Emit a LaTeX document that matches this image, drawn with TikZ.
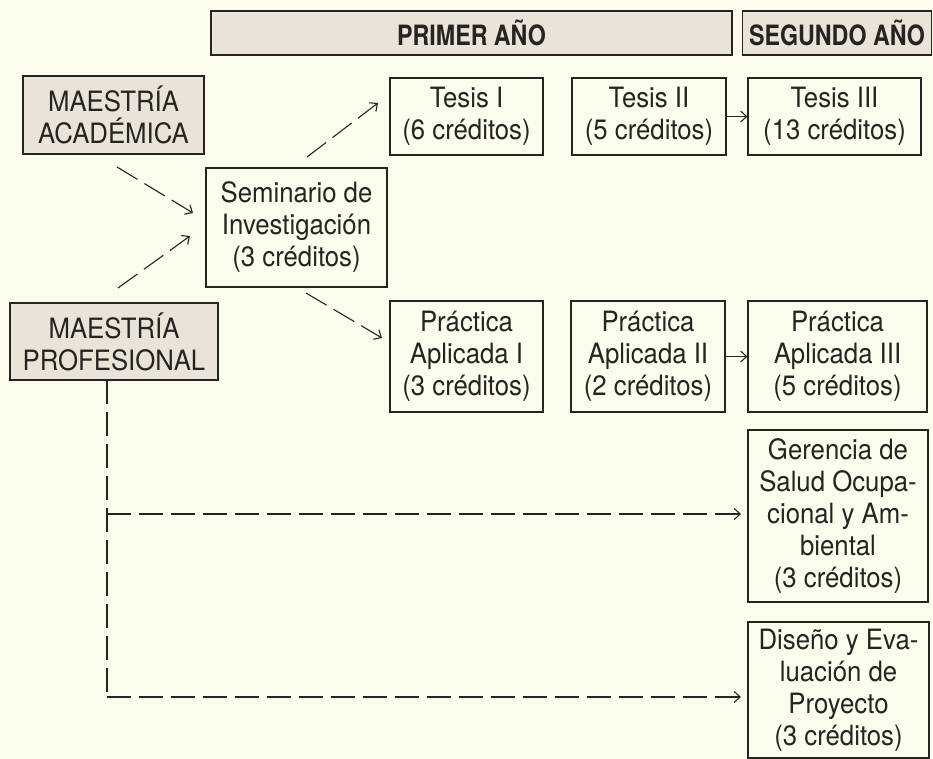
\documentclass[tikz,border=0pt]{standalone}
\usepackage{fontspec}
\setmainfont{TeX Gyre Heros}[FakeStretch=0.92]
\newfontfamily\hdrfont{TeX Gyre Heros}[FakeStretch=0.83]
\usetikzlibrary{arrows.meta}
\definecolor{paper}{RGB}{253,251,236}
\definecolor{boxfill}{RGB}{234,228,216}
\definecolor{ink}{RGB}{38,36,34}
\begin{document}
\begin{tikzpicture}[x=1pt,y=-1pt,
  base/.style={draw=ink, line width=1.1pt, inner sep=0pt, align=center,
    font=\fontsize{28}{32}\selectfont, text=ink},
  course/.style={base},
  prog/.style={base, fill=boxfill},
  yearbox/.style={base, fill=boxfill, font=\hdrfont\bfseries\fontsize{28}{32}\selectfont},
  conn/.style={draw=ink, line width=1.1pt, -{Straight Barb[length=6pt,width=11pt]}},
  dconn/.style={conn, dash pattern=on 24pt off 8pt},
  dline/.style={draw=ink, line width=1.1pt, dash pattern=on 24pt off 8pt}]
\useasboundingbox (0,0) rectangle (933,759);
\fill[paper] (0,0) rectangle (933,759);

% year headers
\node[yearbox, minimum width=521pt, minimum height=44pt] (prim) at (471.5,33) {PRIMER AÑO};
\node[yearbox, minimum width=189pt, minimum height=44pt] (seg) at (837,33) {SEGUNDO AÑO};

% programmes
\node[prog, minimum width=181pt, minimum height=78pt] (ma) at (113.5,115) {MAESTRÍA\\ACADÉMICA};
\node[prog, minimum width=208pt, minimum height=77pt] (mp) at (114,341.5) {MAESTRÍA\\PROFESIONAL};

% courses
\node[course, minimum width=181pt, minimum height=119pt] (sem) at (296.5,227.5) {Seminario de\\Investigación\\(3 créditos)};
\node[course, minimum width=153pt, minimum height=77pt] (t1) at (466.5,116.5) {Tesis I\\(6 créditos)};
\node[course, minimum width=154pt, minimum height=77pt] (t2) at (649,116.5) {Tesis II\\(5 créditos)};
\node[course, minimum width=173pt, minimum height=77pt] (t3) at (834.5,116.5) {Tesis III\\(13 créditos)};
\node[course, minimum width=153pt, minimum height=111pt] (p1) at (466.5,356.5) {Práctica\\Aplicada I\\(3 créditos)};
\node[course, minimum width=154pt, minimum height=111pt] (p2) at (648,356.5) {Práctica\\Aplicada II\\(2 créditos)};
\node[course, minimum width=179pt, minimum height=111pt] (p3) at (837.5,356.5) {Práctica\\Aplicada III\\(5 créditos)};
\node[course, minimum width=180pt, minimum height=172pt] (ger) at (838,516) {Gerencia de\\Salud Ocupa-\\cional y Am-\\biental\\(3 créditos)};
\node[course, minimum width=181pt, minimum height=136pt] (dis) at (838.5,690) {Diseño y Eva-\\luación de\\Proyecto\\(3 créditos)};

% free ends of the dashed arrows
\coordinate (a1s) at (117,167);  \coordinate (a1e) at (193,213);
\coordinate (a2s) at (118,288);  \coordinate (a2e) at (190,236);
\coordinate (a3s) at (307,157);  \coordinate (a3e) at (378,103);
\coordinate (a4s) at (306,293);  \coordinate (a4e) at (382,338);
\coordinate (vtop) at (107,380);
\coordinate (vmid) at (107,514);
\coordinate (vbot) at (107,697);
\coordinate (gtip) at (741,514);
\coordinate (dtip) at (741,697);

\draw[dconn] (a1s) -- (a1e);
\draw[dconn] (a2s) -- (a2e);
\draw[dconn] (a3s) -- (a3e);
\draw[dconn] (a4s) -- (a4e);

\draw[conn] (t2.east) -- (t3.west);
\draw[conn] (p2.east) -- (p3.west);

\draw[dline] (vtop) -- (vbot);
\draw[dconn] (vmid) -- (gtip);
\draw[dconn] (vbot) -- (dtip);
\end{tikzpicture}
\end{document}
